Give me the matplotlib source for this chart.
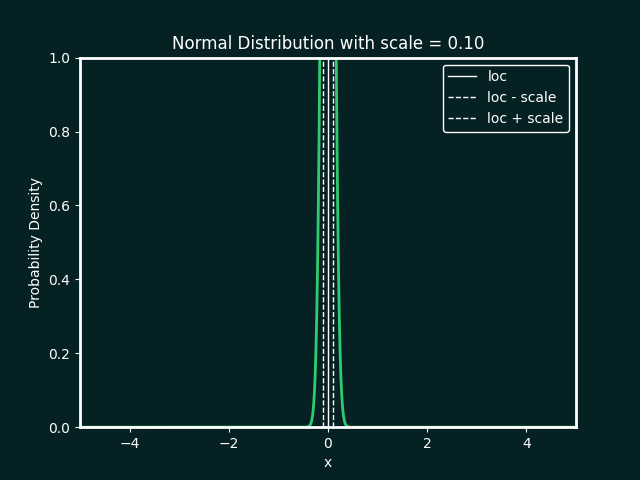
import numpy as np
import matplotlib
matplotlib.use("Agg")
import matplotlib.pyplot as plt

# distribution parameters shown in the chart
loc = 0.0
scale = 0.10
x_range = (-5, 5)
y_range = (0, 1.0)

bg = "#062124"
fg = "white"

x = np.linspace(x_range[0], x_range[1], 2000)
pdf = np.exp(-0.5 * ((x - loc) / scale) ** 2) / (scale * np.sqrt(2 * np.pi))

fig, ax = plt.subplots(figsize=(6.4, 4.8), dpi=100)
fig.patch.set_facecolor(bg)
ax.set_facecolor(bg)

ax.plot(x, pdf, color="#2ecc71", lw=2)
ax.axvline(loc, color=fg, lw=1, label="loc")
ax.axvline(loc - scale, color=fg, lw=1, ls="--", label="loc - scale")
ax.axvline(loc + scale, color=fg, lw=1, ls="--", label="loc + scale")

ax.set_xlim(*x_range)
ax.set_ylim(*y_range)
ax.set_title(f"Normal Distribution with scale = {scale:.2f}", color=fg)
ax.set_xlabel("x", color=fg)
ax.set_ylabel("Probability Density", color=fg)
ax.tick_params(colors=fg)
for s in ax.spines.values():
    s.set_color(fg)
    s.set_linewidth(2)

leg = ax.legend(loc="upper right", facecolor=bg, edgecolor=fg, framealpha=1)
for t in leg.get_texts():
    t.set_color(fg)

fig.savefig("out.png", facecolor=bg)
